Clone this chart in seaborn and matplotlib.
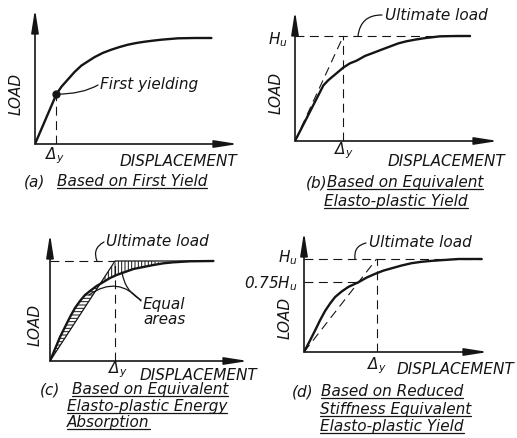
import numpy as np
import matplotlib
matplotlib.use("Agg")
import matplotlib.pyplot as plt
import seaborn as sns
from matplotlib.lines import Line2D

# load is given as a fraction of the ultimate load Hu, displacement in arbitrary units
# (a) based on first yield
disp_a = [0, 1.07, 1.32, 1.65, 1.98, 2.32, 2.65, 2.98, 3.4, 3.82, 4.23, 4.65, 5.07,
          5.48, 5.9, 6.32, 7.15, 7.98, 8.82]
load_a = [0, 0.47, 0.54, 0.61, 0.68, 0.74, 0.78, 0.82, 0.86, 0.89, 0.915, 0.937, 0.953,
          0.965, 0.975, 0.984, 0.997, 1.0, 1.0]
yield_a = [1.07, 0.47]

# (b) equivalent elasto-plastic yield
disp_b = [0, 1.42, 1.67, 1.92, 2.17, 2.42, 2.75, 3.08, 3.5, 3.92, 4.33, 4.75, 5.17,
          5.58, 6.0, 6.42, 7.25, 8.08, 8.75]
load_b = [0, 0.53, 0.58, 0.62, 0.66, 0.70, 0.74, 0.765, 0.81, 0.84, 0.87, 0.90, 0.93,
          0.95, 0.965, 0.978, 0.997, 1.0, 1.0]
dy_b = 2.42

# (c) equivalent elasto-plastic energy absorption
disp_c = [0, 0.25, 0.5, 0.75, 1.0, 1.25, 1.5, 1.75, 2.0, 2.33, 2.67, 3.0, 3.33, 3.75,
          4.17, 4.67, 5.17, 5.67, 6.17, 7.0, 8.17]
load_c = [0, 0.12, 0.24, 0.34, 0.44, 0.53, 0.60, 0.66, 0.70, 0.75, 0.79, 0.83, 0.86, 0.89,
          0.92, 0.94, 0.96, 0.977, 0.987, 0.997, 1.0]
dy_c = 3.25

# (d) reduced stiffness equivalent elasto-plastic yield
disp_d = [0, 0.28, 0.55, 0.8, 1.05, 1.3, 1.55, 1.88, 2.22, 2.72, 3.13, 3.55, 3.97, 4.38,
          4.88, 5.38, 5.88, 6.38, 7.05, 7.72, 8.88]
load_d = [0, 0.115, 0.23, 0.34, 0.44, 0.52, 0.59, 0.65, 0.70, 0.75, 0.80, 0.84, 0.875, 0.90,
          0.93, 0.955, 0.97, 0.98, 0.99, 1.0, 1.0]
dy_d = 3.63
ratio_d = 0.75

captions = {
    "a": ["Based on First Yield"],
    "b": ["Based on Equivalent", "Elasto-plastic Yield"],
    "c": ["Based on Equivalent", "Elasto-plastic Energy", "Absorption"],
    "d": ["Based on Reduced", "Stiffness Equivalent", "Elasto-plastic Yield"],
}

W, H = 517, 439
PX_X = 20.0  # pixels per displacement unit

sns.set_style("white")
plt.rcParams["font.family"] = ["DejaVu Sans"]
plt.rcParams["font.style"] = "italic"
plt.rcParams["mathtext.fontset"] = "dejavusans"
plt.rcParams["mathtext.default"] = "it"
plt.rcParams["hatch.linewidth"] = 0.7
INK = "#151515"
FS = 11

fig = plt.figure(figsize=(W / 100, H / 100), dpi=100)


def panel(ox, oy, xlen, ylen, hu_px):
    # ox, oy: origin in image pixels; xlen/ylen: axis lengths in pixels
    ax = fig.add_axes([ox / W, (H - oy) / H, xlen / W, ylen / H])
    ax.set_xlim(0, xlen / PX_X)
    ax.set_ylim(0, ylen / hu_px)
    ax.set_axis_off()
    arrow = dict(arrowstyle="-|>,head_length=1.4,head_width=0.22", color=INK, lw=1.2,
                 shrinkA=0, shrinkB=0, mutation_scale=10)
    ax.annotate("", xy=(1, 0), xytext=(0, 0), xycoords="axes fraction", arrowprops=arrow)
    ax.annotate("", xy=(0, 1), xytext=(0, 0), xycoords="axes fraction", arrowprops=arrow)
    return ax


def ftext(x, y, s, **kw):
    kw.setdefault("fontsize", FS)
    kw.setdefault("color", INK)
    return fig.text(x / W, 1 - y / H, s, **kw)


def dashed(ax, xs, ys):
    ax.plot(xs, ys, color=INK, lw=0.8, linestyle=(0, (8, 5)))


def curve(ax, x, y):
    sns.lineplot(x=x, y=y, ax=ax, sort=False, color=INK, lw=1.7, estimator=None,
                 solid_joinstyle="round", solid_capstyle="round")


def leader(ax, xy, txt_px, style):
    ax.annotate("", xy=xy, xycoords="data", xytext=(txt_px[0], H - txt_px[1]),
                textcoords="figure pixels",
                arrowprops=dict(arrowstyle="-", color=INK, lw=0.9, shrinkA=0, shrinkB=0,
                                connectionstyle=style))


underlined = []


def caption(tag, x_tag, x_txt, ys, lines, indent):
    ftext(x_tag, ys[0], f"({tag})", ha="left", va="center")
    for i, line in enumerate(lines):
        x0 = x_txt if i == 0 else x_txt - indent
        t = ftext(x0, ys[i], line, ha="left", va="center")
        underlined.append((t, ys[i] + 7))


# ---------------- (a) ----------------
ax = panel(35, 145, 203, 135, 106)
curve(ax, disp_a, load_a)
dashed(ax, [yield_a[0], yield_a[0]], [0, yield_a[1]])
ax.plot([yield_a[0]], [yield_a[1]], "o", color=INK, ms=5)
ftext(100, 85, "First yielding", ha="left", va="center")
leader(ax, yield_a, (98, 86), "angle3,angleA=30,angleB=0")
ftext(16, 94, "LOAD", rotation=90, ha="center", va="center")
ftext(55, 156, r"$\Delta_y$", ha="center", va="center")
ftext(178, 162, "DISPLACEMENT", ha="center", va="center")
caption("a", 24, 57, [182], captions["a"], 0)

# ---------------- (b) ----------------
ax = panel(295, 142, 203, 130, 105)
curve(ax, disp_b, load_b)
dashed(ax, [0, disp_b[-1]], [1.0, 1.0])
dashed(ax, [0, dy_b], [0, 1.0])
dashed(ax, [dy_b, dy_b], [0, 1.0])
ftext(385, 15, "Ultimate load", ha="left", va="center")
leader(ax, (3.15, 1.0), (382, 16), "arc3,rad=0.45")
ftext(278, 40, r"$H_u$", ha="center", va="center")
ftext(276, 93, "LOAD", rotation=90, ha="center", va="center")
ftext(344, 151, r"$\Delta_y$", ha="center", va="center")
ftext(446, 162, "DISPLACEMENT", ha="center", va="center")
caption("b", 306, 327, [183, 202], captions["b"], 3)

# ---------------- (c) ----------------
ax = panel(50, 362, 198, 127, 100)
xc = np.array(disp_c)
yc = np.array(load_c)
ep = np.minimum(xc / dy_c, 1.0)
ax.fill_between(xc, ep, yc, where=yc >= ep, interpolate=True, facecolor="none",
                edgecolor=INK, hatch="-----", lw=0)
upper = (ep >= yc) & (xc <= 5.2)
ax.fill_between(xc, yc, ep, where=upper, interpolate=True, facecolor="none",
                edgecolor=INK, hatch="|||||", lw=0)
ax.plot([0, dy_c, disp_c[-1]], [0, 1.0, 1.0], color=INK, lw=0.9)
curve(ax, disp_c, load_c)
dashed(ax, [0, dy_c], [1.0, 1.0])
dashed(ax, [dy_c, dy_c], [0, 1.0])
ftext(106, 242, "Ultimate load", ha="left", va="center")
leader(ax, (2.35, 1.0), (104, 243), "arc3,rad=0.45")
ftext(143, 305, "Equal", ha="left", va="center")
ftext(143, 320, "areas", ha="left", va="center")
leader(ax, (3.6, 0.89), (141, 301), "arc3,rad=-0.25")
leader(ax, (1.95, 0.66), (141, 302), "arc3,rad=0.45")
ftext(35, 325, "LOAD", rotation=90, ha="center", va="center")
ftext(118, 370, r"$\Delta_y$", ha="center", va="center")
ftext(198, 376, "DISPLACEMENT", ha="center", va="center")
caption("c", 40, 72, [390, 407, 423], captions["c"], 5)

# ---------------- (d) ----------------
ax = panel(304, 353, 184, 120, 93)
curve(ax, disp_d, load_d)
dashed(ax, [0, disp_d[-1]], [1.0, 1.0])
dashed(ax, [0, dy_d], [0, 1.0])
dashed(ax, [dy_d, dy_d], [0, 1.0])
dashed(ax, [0, ratio_d * dy_d], [ratio_d, ratio_d])
ftext(369, 243, "Ultimate load", ha="left", va="center")
leader(ax, (2.55, 1.0), (366, 244), "arc3,rad=0.45")
ftext(298, 258, r"$H_u$", ha="right", va="center")
ftext(298, 284, r"$0.75H_u$", ha="right", va="center")
ftext(285, 318, "LOAD", rotation=90, ha="center", va="center")
ftext(377, 366, r"$\Delta_y$", ha="center", va="center")
ftext(455, 370, "DISPLACEMENT", ha="center", va="center")
caption("d", 292, 321, [392, 410, 427], captions["d"], 1)

# underline the caption texts
fig.canvas.draw()
renderer = fig.canvas.get_renderer()
for t, y in underlined:
    bb = t.get_window_extent(renderer)
    fig.add_artist(Line2D([bb.x0 / W, bb.x1 / W], [1 - y / H, 1 - y / H],
                          transform=fig.transFigure, color=INK, lw=0.9))

fig.savefig("out.png", dpi=100)
